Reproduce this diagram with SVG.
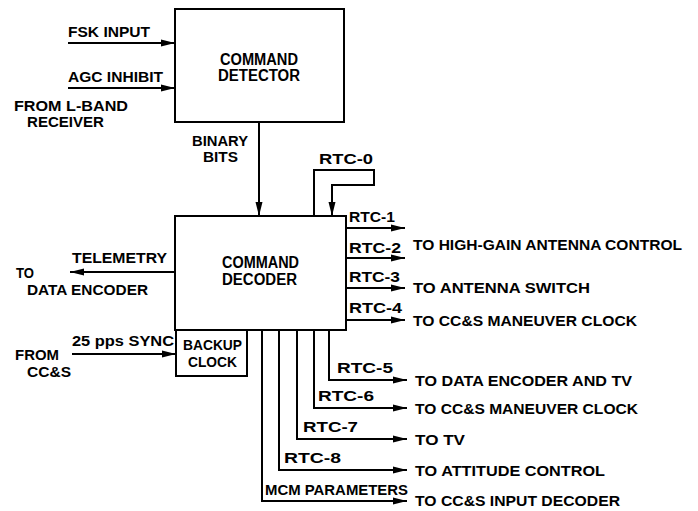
<svg xmlns="http://www.w3.org/2000/svg" width="698" height="511" viewBox="0 0 698 511">
<style>
.box{fill:#fff;stroke:#000;stroke-width:2}
.ln{fill:none;stroke:#000;stroke-width:2}
.arr{marker-end:url(#ah)}
text{font-family:"Liberation Sans",Arial,sans-serif;font-weight:bold;font-size:15px;fill:#000}
.nd{font-size:16px}
.sm{font-size:14px}
</style>
<defs>
<marker id="ah" markerUnits="userSpaceOnUse" markerWidth="16" markerHeight="10" refX="14" refY="4" orient="auto">
<path d="M0,0.5 L14,4 L0,7.5 z" fill="#000"/>
</marker>
</defs>
<rect width="698" height="511" fill="#fff"/>
<g id="command-detector">
<rect class="box" x="175" y="9" width="169" height="113"/>
<text class="nd" x="220" y="65" textLength="78" lengthAdjust="spacingAndGlyphs">COMMAND</text>
<text class="nd" x="218" y="81" textLength="82" lengthAdjust="spacingAndGlyphs">DETECTOR</text>
</g>
<g id="command-decoder">
<rect class="box" x="175" y="216" width="171" height="114"/>
<text class="nd" x="222" y="268" textLength="77" lengthAdjust="spacingAndGlyphs">COMMAND</text>
<text class="nd" x="222" y="285" textLength="75" lengthAdjust="spacingAndGlyphs">DECODER</text>
</g>
<g id="backup-clock">
<rect class="box" x="176" y="330" width="71" height="46"/>
<text x="183" y="350" textLength="59" lengthAdjust="spacingAndGlyphs">BACKUP</text>
<text x="188" y="367" textLength="49" lengthAdjust="spacingAndGlyphs">CLOCK</text>
</g>
<g id="connectors">
<path class="ln arr" d="M68,43 H175"/>
<path class="ln arr" d="M68,88 H175"/>
<path class="ln arr" d="M259,122 V216"/>
<path class="ln arr" d="M314,216 V170 H374 V185 H332 V216"/>
<path class="ln arr" d="M346,228 H405"/>
<path class="ln arr" d="M346,258 H405"/>
<path class="ln arr" d="M346,288 H405"/>
<path class="ln arr" d="M346,320 H405"/>
<path class="ln arr" d="M175,272 H70"/>
<path class="ln arr" d="M72,354 H176"/>
<path class="ln arr" d="M329,330 V380 H407"/>
<path class="ln arr" d="M314,330 V408 H407"/>
<path class="ln arr" d="M297,330 V439 H407"/>
<path class="ln arr" d="M279,330 V470 H407"/>
<path class="ln arr" d="M262,330 V501 H407"/>
</g>
<g id="labels">
<text x="68" y="37" textLength="82" lengthAdjust="spacingAndGlyphs">FSK INPUT</text>
<text x="68" y="82" textLength="95" lengthAdjust="spacingAndGlyphs">AGC INHIBIT</text>
<text x="14" y="111" textLength="114" lengthAdjust="spacingAndGlyphs">FROM L-BAND</text>
<text x="27" y="127" textLength="77" lengthAdjust="spacingAndGlyphs">RECEIVER</text>
<text class="sm" x="192" y="146" textLength="56" lengthAdjust="spacingAndGlyphs">BINARY</text>
<text class="sm" x="203" y="162" textLength="35" lengthAdjust="spacingAndGlyphs">BITS</text>
<text x="319" y="164" textLength="54" lengthAdjust="spacingAndGlyphs">RTC-0</text>
<text x="349" y="222" textLength="46" lengthAdjust="spacingAndGlyphs">RTC-1</text>
<text x="349" y="253" textLength="52" lengthAdjust="spacingAndGlyphs">RTC-2</text>
<text x="349" y="282" textLength="51" lengthAdjust="spacingAndGlyphs">RTC-3</text>
<text x="349" y="313" textLength="53" lengthAdjust="spacingAndGlyphs">RTC-4</text>
<text x="413" y="250" textLength="269" lengthAdjust="spacingAndGlyphs">TO HIGH-GAIN ANTENNA CONTROL</text>
<text x="413" y="293" textLength="177" lengthAdjust="spacingAndGlyphs">TO ANTENNA SWITCH</text>
<text x="413" y="326" textLength="224" lengthAdjust="spacingAndGlyphs">TO CC&amp;S MANEUVER CLOCK</text>
<text x="72" y="263" textLength="95" lengthAdjust="spacingAndGlyphs">TELEMETRY</text>
<text x="16" y="278" textLength="18" lengthAdjust="spacingAndGlyphs">TO</text>
<text x="27" y="295" textLength="121" lengthAdjust="spacingAndGlyphs">DATA ENCODER</text>
<text x="72" y="346" textLength="102" lengthAdjust="spacingAndGlyphs">25 pps SYNC</text>
<text x="15" y="360" textLength="44" lengthAdjust="spacingAndGlyphs">FROM</text>
<text x="27" y="377" textLength="44" lengthAdjust="spacingAndGlyphs">CC&amp;S</text>
<text x="337" y="373" textLength="56" lengthAdjust="spacingAndGlyphs">RTC-5</text>
<text x="318" y="401" textLength="56" lengthAdjust="spacingAndGlyphs">RTC-6</text>
<text x="303" y="432" textLength="55" lengthAdjust="spacingAndGlyphs">RTC-7</text>
<text x="284" y="463" textLength="57" lengthAdjust="spacingAndGlyphs">RTC-8</text>
<text x="265" y="495" textLength="143" lengthAdjust="spacingAndGlyphs">MCM PARAMETERS</text>
<text x="415" y="386" textLength="217" lengthAdjust="spacingAndGlyphs">TO DATA ENCODER AND TV</text>
<text x="415" y="414" textLength="223" lengthAdjust="spacingAndGlyphs">TO CC&amp;S MANEUVER CLOCK</text>
<text x="415" y="445" textLength="50" lengthAdjust="spacingAndGlyphs">TO TV</text>
<text x="415" y="476" textLength="190" lengthAdjust="spacingAndGlyphs">TO ATTITUDE CONTROL</text>
<text x="415" y="506" textLength="205" lengthAdjust="spacingAndGlyphs">TO CC&amp;S INPUT DECODER</text>
</g>
</svg>
